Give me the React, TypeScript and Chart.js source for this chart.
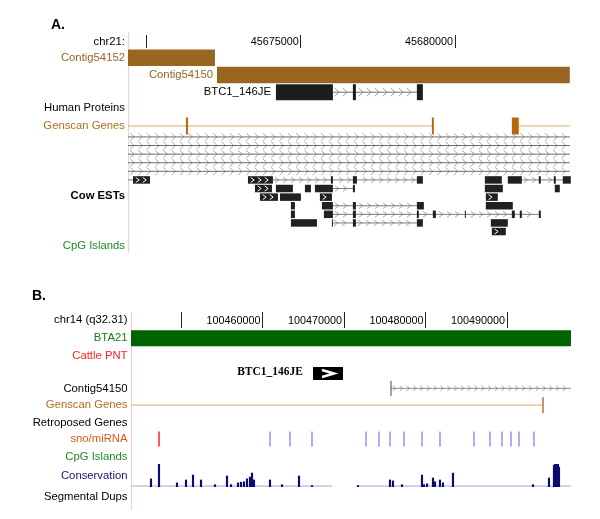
import { useEffect, useRef } from 'react';
import { Chart, registerables } from 'chart.js';

Chart.register(...registerables);

type Span = [number, number];
interface Model { row: number; blocks: Span[]; line?: Span; arrows?: number[] }

// ================= Panel A data: chr21 window =================
const A_MIN = 45669400;
const A_MAX = 45683760;
const A_TICKS = [45670000, 45675000, 45680000];
const A_TICK_LABELS = ['', '45675000', '45680000'];
const A_TRACK_NAMES = ['chr21:', 'Contig54152', 'Human Proteins', 'Genscan Genes', 'Cow ESTs', 'CpG Islands'];

const CONTIG_54152: Span = [45669400, 45672219];
const CONTIG_54150_A: Span = [45672284, 45683721];
const BTC1_A: Model = {
  row: 0,
  blocks: [[45674195, 45676042], [45676690, 45676787], [45678764, 45678958]],
  line: [45676042, 45678764],
};
const GENSCAN_A: Model[] = [
  { row: 0, blocks: [[45671279, 45671344], [45679250, 45679314]], line: [45669400, 45679314] },
  { row: 0, blocks: [[45681842, 45682068]], line: [45682068, 45683721] },
];
const EST_WINDOW: Span = [45669400, 45683721];
const COW_ESTS: Model[] = [
  { row: 0, blocks: [], line: EST_WINDOW },
  { row: 1, blocks: [], line: EST_WINDOW },
  { row: 2, blocks: [], line: EST_WINDOW },
  { row: 3, blocks: [], line: EST_WINDOW },
  { row: 4, blocks: [], line: EST_WINDOW },
  { row: 5, blocks: [[45669400, 45669432], [45669562, 45670113]], line: [45669400, 45669562], arrows: [1] },
  { row: 5, blocks: [[45673288, 45674098], [45675977, 45676042], [45676690, 45676820], [45678764, 45678958]], line: [45674098, 45678764], arrows: [0] },
  { row: 5, blocks: [[45680967, 45681518], [45681712, 45682166], [45682716, 45682781], [45683202, 45683267], [45683494, 45683753]], line: [45682166, 45683494] },
  { row: 6, blocks: [[45669400, 45669432]] },
  { row: 6, blocks: [[45673515, 45674066], [45674195, 45674746], [45675135, 45675329], [45675459, 45676042], [45676690, 45676755]], line: [45676042, 45676690], arrows: [0] },
  { row: 6, blocks: [[45680967, 45681550]] },
  { row: 6, blocks: [[45683235, 45683397]] },
  { row: 7, blocks: [[45673677, 45674260], [45674325, 45675005], [45675621, 45676010]], arrows: [0, 2] },
  { row: 7, blocks: [[45680999, 45681388]], arrows: [0] },
  { row: 8, blocks: [[45674681, 45674811]] },
  { row: 8, blocks: [[45675686, 45676042], [45676690, 45676787], [45678764, 45678990]], line: [45676042, 45678764] },
  { row: 8, blocks: [[45680999, 45681874]] },
  { row: 9, blocks: [[45674681, 45674811]] },
  { row: 9, blocks: [[45675750, 45676042], [45676690, 45676787], [45678764, 45678828], [45679282, 45679379], [45680319, 45680351], [45681842, 45681939], [45682101, 45682166], [45682716, 45682781]], line: [45676042, 45682716] },
  { row: 10, blocks: [[45674681, 45675524]] },
  { row: 10, blocks: [[45676010, 45676042], [45676690, 45676787], [45678764, 45678958]], line: [45676010, 45678764] },
  { row: 10, blocks: [[45681161, 45681712]] },
  { row: 11, blocks: [[45681194, 45681647]], arrows: [0] },
];

// ================= Panel B data: chr14 window =================
const B_MIN = 100443860;
const B_MAX = 100497850;
const B_TICKS = [100450000, 100460000, 100470000, 100480000, 100490000];
const B_TICK_LABELS = ['', '100460000', '100470000', '100480000', '100490000'];
const B_TRACK_NAMES = ['chr14 (q32.31)', 'BTA21', 'Cattle PNT', 'Contig54150', 'Genscan Genes', 'Retroposed Genes', 'sno/miRNA', 'CpG Islands', 'Conservation', 'Segmental Dups'];

const BTA21_SPAN: Span = [100443860, 100497850];
const BTC1_B: Span = [100466191, 100469872];
const CONTIG_54150_B: Span = [100475762, 100497850];
const GENSCAN_B: Span = [100443860, 100494412];
const SNO_RED = [100447296];
const SNO_BLUE = [100460915, 100463369, 100466069, 100472695, 100474290, 100475639, 100477357, 100479566, 100481774, 100485946, 100487909, 100489382, 100490486, 100491468, 100493308];
const CONS_POS = [100446314, 100447296, 100449504, 100450609, 100451467, 100452449, 100454167, 100455639, 100456130, 100456989, 100457357, 100457725, 100458093, 100458461, 100458707, 100458952, 100460915, 100462388, 100464474, 100466069, 100471713, 100475639, 100476007, 100477112, 100479566, 100479811, 100480179, 100480915, 100481161, 100481774, 100482142, 100483369, 100493185, 100495149, 100495762, 100495885, 100496008, 100496130, 100496253, 100496376];
const CONS_SCORE = [0.35, 1.0, 0.17, 0.3, 0.52, 0.3, 0.09, 0.48, 0.09, 0.17, 0.2, 0.22, 0.35, 0.43, 0.61, 0.3, 0.3, 0.09, 0.48, 0.05, 0.05, 0.3, 0.26, 0.09, 0.52, 0.09, 0.13, 0.39, 0.22, 0.3, 0.17, 0.61, 0.09, 0.39, 0.96, 1.0, 1.0, 0.96, 1.0, 0.87];
const CONS_COVERED: Span[] = [[100443860, 100468523], [100471590, 100497850]];

// ================= layout & style =================
const FONT = '"Liberation Sans", Arial, Helvetica, sans-serif';
const BROWN = '#996622';
const GENSCAN_LABEL = '#b36b1e';

const A_LANE = { ruler: 0.35, contig1: 3, contig2: 5, btc1: 7, genscan: 10.93, est0: 12.2 };
const A_LABEL_LANES = [1.16, 3.0, 8.84, 10.93, 19.1, 24.9];
const A_LABEL_COLORS = ['#000', BROWN, '#000', GENSCAN_LABEL, '#000', '#1a8c28'];
const A_LABEL_BOLD = [false, false, false, false, true, false];

const B_LANE = { ruler: 0, bta: 1.53, btc1: 3.6, contig: 4.47, genscan: 5.45, sno: 7.44 };
const B_LABEL_LANES = [0.45, 1.53, 2.56, 4.53, 5.45, 6.48, 7.44, 8.47, 9.6, 10.85];
const B_LABEL_COLORS = ['#000', '#167d16', '#ff2020', '#000', GENSCAN_LABEL, '#000', '#d85a1e', '#1a8c28', '#14147a', '#000'];

interface ChevLine { lane: number; line: Span; blocks: Span[]; color: string; pitch: number; w: number; h: number }
interface ArrowBlock { lane: number; span: Span; color: string; pitch: number; w: number; h: number; lw: number; single?: boolean }
interface FeatLabel { text: string; at: number; lane: number; gap: number; color: string; font: string }

function seg(span: Span, lane: number, color: string, width: number, order = 0, yAxisID = 'y') {
  return {
    data: [{ x: span[0], y: lane }, { x: span[1], y: lane }],
    showLine: true,
    borderColor: color,
    backgroundColor: color,
    borderWidth: width,
    borderCapStyle: 'butt',
    pointRadius: 0,
    pointHoverRadius: 0,
    pointHitRadius: 0,
    order,
    yAxisID,
  };
}

function makeDecor(chevs: ChevLine[], arrows: ArrowBlock[], labels: FeatLabel[]) {
  return {
    id: 'genomeDecor',
    beforeDatasetsDraw(chart: any) {
      const { ctx, chartArea: ca } = chart;
      const xs = chart.scales.x;
      const ys = chart.scales.y;
      ctx.save();
      ctx.beginPath();
      ctx.rect(ca.left, ca.top, ca.right - ca.left, ca.bottom - ca.top);
      ctx.clip();
      ctx.lineWidth = 1;
      for (const c of chevs) {
        const y = ys.getPixelForValue(c.lane);
        const x0 = xs.getPixelForValue(c.line[0]);
        const x1 = xs.getPixelForValue(c.line[1]);
        const bl = c.blocks.map((b) => [xs.getPixelForValue(b[0]), xs.getPixelForValue(b[1])]);
        ctx.strokeStyle = c.color;
        ctx.beginPath();
        for (let cx = x0 + c.pitch / 2; cx + c.w / 2 <= x1; cx += c.pitch) {
          if (bl.some(([a, b]) => cx + c.w / 2 + 1 > a && cx - c.w / 2 - 1 < b)) continue;
          ctx.moveTo(cx - c.w / 2, y - c.h / 2);
          ctx.lineTo(cx + c.w / 2, y);
          ctx.lineTo(cx - c.w / 2, y + c.h / 2);
        }
        ctx.stroke();
      }
      ctx.restore();
    },
    afterDatasetsDraw(chart: any) {
      const { ctx } = chart;
      const xs = chart.scales.x;
      const ys = chart.scales.y;
      ctx.save();
      for (const a of arrows) {
        const y = ys.getPixelForValue(a.lane);
        const x0 = xs.getPixelForValue(a.span[0]);
        const x1 = xs.getPixelForValue(a.span[1]);
        ctx.strokeStyle = a.color;
        ctx.lineWidth = a.lw;
        ctx.beginPath();
        const centers: number[] = [];
        if (a.single) centers.push((x0 + x1) / 2);
        else for (let cx = x0 + a.pitch / 2 + 1; cx + a.w / 2 <= x1 - 1; cx += a.pitch) centers.push(cx);
        for (const cx of centers) {
          ctx.moveTo(cx - a.w / 2, y - a.h / 2);
          ctx.lineTo(cx + a.w / 2, y);
          ctx.lineTo(cx - a.w / 2, y + a.h / 2);
        }
        ctx.stroke();
      }
      for (const l of labels) {
        ctx.font = l.font;
        ctx.fillStyle = l.color;
        ctx.textAlign = 'right';
        ctx.textBaseline = 'middle';
        ctx.fillText(l.text, xs.getPixelForValue(l.at) - l.gap, ys.getPixelForValue(l.lane));
      }
      ctx.restore();
    },
  };
}

function modelSets(m: Model, lane: number, blockColor: string, lineColor: string, h: number, out: any[]) {
  if (m.line) out.push(seg(m.line, lane, lineColor, 1, 1));
  for (const b of m.blocks) out.push(seg(b, lane, blockColor, h, 0));
}

function baseOptions(min: number, max: number, rulerLane: number, tickLen: number, ticks: number[], tickLabels: string[], yMax: number, laneVals: number[], names: string[], colors: string[], bold: boolean[], axisWidth: number, labelPad: number, padding: any) {
  return {
    responsive: false,
    animation: false,
    devicePixelRatio: 1,
    events: [],
    layout: { padding },
    plugins: { legend: { display: false }, tooltip: { enabled: false }, title: { display: false } },
    scales: {
      x: {
        type: 'linear',
        min,
        max,
        offset: false,
        position: { y: rulerLane },
        border: { display: false },
        grid: { offset: false, drawOnChartArea: false, drawTicks: true, tickLength: tickLen, color: '#222', lineWidth: 1 },
        ticks: {
          align: 'end',
          mirror: true,
          padding: 0,
          labelOffset: -2,
          autoSkip: false,
          maxRotation: 0,
          minRotation: 0,
          color: '#000',
          font: { family: FONT, size: 10.8 },
          callback: (_v: any, i: number) => tickLabels[i] ?? '',
        },
        afterBuildTicks: (s: any) => { s.ticks = ticks.map((value) => ({ value })); },
        afterFit: (s: any) => { s.paddingLeft = 0; s.paddingRight = 0; },
      },
      y: {
        type: 'linear',
        min: 0,
        max: yMax,
        reverse: true,
        offset: false,
        grid: { display: false, drawTicks: false },
        border: { display: true, color: '#ffcccc', width: 1 },
        ticks: {
          autoSkip: false,
          padding: labelPad,
          callback: (_v: any, i: number) => names[i] ?? '',
          color: (c: any) => colors[c.index] ?? '#000',
          font: (c: any) => ({ family: FONT, size: 11.3, weight: bold[c.index] ? 'bold' : 'normal' }),
        },
        afterBuildTicks: (s: any) => { s.ticks = laneVals.map((value) => ({ value })); },
        afterFit: (s: any) => { s.width = axisWidth; s.paddingTop = 0; s.paddingBottom = 0; },
      },
    },
  } as any;
}

function configA() {
  const ds: any[] = [];
  const chevs: ChevLine[] = [];
  const arrows: ArrowBlock[] = [];
  ds.push(seg(CONTIG_54152, A_LANE.contig1, BROWN, 16.5));
  ds.push(seg(CONTIG_54150_A, A_LANE.contig2, BROWN, 16.5));
  modelSets(BTC1_A, A_LANE.btc1, '#1c1c1c', '#6e6e6e', 16, ds);
  chevs.push({ lane: A_LANE.btc1, line: BTC1_A.line as Span, blocks: BTC1_A.blocks, color: '#9a9a9a', pitch: 8, w: 4, h: 8 });
  for (const g of GENSCAN_A) modelSets(g, A_LANE.genscan, '#b8680c', '#d4ad78', 17, ds);
  for (const e of COW_ESTS) {
    const lane = A_LANE.est0 + e.row;
    modelSets(e, lane, '#202020', e.blocks.length ? '#7a7a7a' : '#6a6a6a', 7.5, ds);
    if (e.line) chevs.push({ lane, line: e.line, blocks: e.blocks, color: '#a8a8a8', pitch: e.blocks.length ? 8 : 8.3, w: 4, h: e.blocks.length ? 6 : 7.5 });
    for (const k of e.arrows ?? []) arrows.push({ lane, span: e.blocks[k], color: '#ffffff', pitch: 7, w: 3.5, h: 5, lw: 1 });
  }
  const labels: FeatLabel[] = [
    { text: 'Contig54150', at: CONTIG_54150_A[0], lane: A_LANE.contig2, gap: 4, color: BROWN, font: `11.3px ${FONT}` },
    { text: 'BTC1_146JE', at: BTC1_A.blocks[0][0], lane: A_LANE.btc1, gap: 5, color: '#000', font: `11.3px ${FONT}` },
  ];
  return {
    type: 'scatter',
    data: { datasets: ds },
    options: baseOptions(A_MIN, A_MAX, A_LANE.ruler, 13, A_TICKS, A_TICK_LABELS, 25.58, A_LABEL_LANES, A_TRACK_NAMES, A_LABEL_COLORS, A_LABEL_BOLD, 128, 3, { top: 32, bottom: 8, left: 0, right: 29 }),
    plugins: [makeDecor(chevs, arrows, labels)],
  } as any;
}

function configB() {
  const ds: any[] = [];
  ds.push(seg(BTA21_SPAN, B_LANE.bta, '#006400', 16));
  ds.push(seg(BTC1_B, B_LANE.btc1, '#000000', 13));
  ds.push(seg(CONTIG_54150_B, B_LANE.contig, '#8a8a8a', 1, 1));
  ds.push({ data: [{ x: CONTIG_54150_B[0], y: B_LANE.contig }], pointStyle: 'line', pointRotation: 90, pointRadius: 7.5, pointBorderColor: '#444', pointBorderWidth: 1, showLine: false, order: 0 });
  ds.push(seg(GENSCAN_B, B_LANE.genscan, '#dca66c', 1, 1));
  ds.push({ data: [{ x: GENSCAN_B[1], y: B_LANE.genscan }], pointStyle: 'line', pointRotation: 90, pointRadius: 8, pointBorderColor: '#d0955a', pointBorderWidth: 2, showLine: false, order: 0 });
  ds.push({ data: SNO_RED.map((x) => ({ x, y: B_LANE.sno })), pointStyle: 'line', pointRotation: 90, pointRadius: 7.5, pointBorderColor: '#ff2020', pointBorderWidth: 1.5, showLine: false, order: 0 });
  ds.push({ data: SNO_BLUE.map((x) => ({ x, y: B_LANE.sno })), pointStyle: 'line', pointRotation: 90, pointRadius: 7.5, pointBorderColor: '#5a5aff', pointBorderWidth: 1, showLine: false, order: 0 });
  for (const c of CONS_COVERED) ds.push(seg(c, 0.03, '#a4a4dc', 1, 1, 'yc'));
  ds.push({
    type: 'bar',
    yAxisID: 'yc',
    data: CONS_POS.map((x, i) => ({ x, y: CONS_SCORE[i] })),
    backgroundColor: '#0c0c6e',
    borderWidth: 0,
    barThickness: 1.5,
    grouped: false,
    order: 0,
  });
  const chevs: ChevLine[] = [
    { lane: B_LANE.contig, line: CONTIG_54150_B, blocks: [], color: '#a8a8a8', pitch: 6.8, w: 3, h: 5 },
  ];
  const arrows: ArrowBlock[] = [
    { lane: B_LANE.btc1, span: BTC1_B, color: '#ffffff', pitch: 0, w: 12, h: 7, lw: 2.5, single: true },
  ];
  const labels: FeatLabel[] = [
    { text: 'BTC1_146JE', at: BTC1_B[0], lane: B_LANE.btc1 - 0.08, gap: 10, color: '#000', font: `bold 11.5px "Liberation Serif", "Times New Roman", serif` },
  ];
  const options = baseOptions(B_MIN, B_MAX, B_LANE.ruler, 16, B_TICKS, B_TICK_LABELS, 11.534, B_LABEL_LANES, B_TRACK_NAMES, B_LABEL_COLORS, B_TRACK_NAMES.map(() => false), 131, 3.5, { top: 52, bottom: 4, left: 0, right: 29 });
  options.scales.yc = { type: 'linear', display: false, min: -1, max: 7.826, offset: false };
  return {
    type: 'scatter',
    data: { datasets: ds },
    options,
    plugins: [makeDecor(chevs, arrows, labels)],
  } as any;
}

export default function App() {
  const refA = useRef<HTMLCanvasElement>(null);
  const refB = useRef<HTMLCanvasElement>(null);
  useEffect(() => {
    const a = new Chart(refA.current as HTMLCanvasElement, configA());
    const b = new Chart(refB.current as HTMLCanvasElement, configB());
    return () => {
      a.destroy();
      b.destroy();
    };
  }, []);
  const panelLabel = { position: 'absolute' as const, font: `bold 14px ${FONT}`, lineHeight: '14px', color: '#000' };
  return (
    <div style={{ position: 'absolute', left: 0, top: 0, width: 600, height: 519, background: '#fff', overflow: 'hidden' }}>
      <canvas ref={refA} width={600} height={260} style={{ position: 'absolute', left: 0, top: 0, width: 600, height: 260 }} />
      <canvas ref={refB} width={600} height={259} style={{ position: 'absolute', left: 0, top: 260, width: 600, height: 259 }} />
      <div style={{ ...panelLabel, left: 51, top: 17 }}>A.</div>
      <div style={{ ...panelLabel, left: 32, top: 288 }}>B.</div>
    </div>
  );
}
